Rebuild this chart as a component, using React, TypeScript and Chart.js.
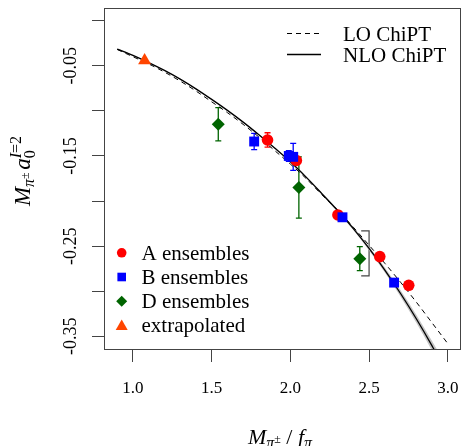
import React, { useEffect, useRef } from 'react';
import { Chart, registerables } from 'chart.js';
Chart.register(...registerables);

// ---- data ----
const curveX = [0.9, 1.0, 1.1, 1.2, 1.3, 1.4, 1.5, 1.6, 1.7, 1.8, 1.9, 2.0, 2.1, 2.2, 2.3, 2.4, 2.5, 2.6, 2.7, 2.8, 2.9, 3.0];
const loY = [-0.032, -0.040, -0.048, -0.057, -0.067, -0.078, -0.090, -0.102, -0.115, -0.129, -0.144, -0.159, -0.175, -0.193, -0.210, -0.229, -0.249, -0.269, -0.290, -0.312, -0.335, -0.358];
const nloY = [-0.0315, -0.0385, -0.0465, -0.0552, -0.0648, -0.0756, -0.0873, -0.0995, -0.1125, -0.1265, -0.1412, -0.1565, -0.1735, -0.1918, -0.2105, -0.2305, -0.2525, -0.2765, -0.3025, -0.3305, -0.3605, -0.3925];
const nloUpper = [-0.0310, -0.0380, -0.0460, -0.0547, -0.0643, -0.0751, -0.0868, -0.0990, -0.1120, -0.1259, -0.1405, -0.1557, -0.1726, -0.1907, -0.2092, -0.2288, -0.2503, -0.2737, -0.2990, -0.3260, -0.3550, -0.3855];
const nloLower = [-0.0320, -0.0390, -0.0470, -0.0557, -0.0653, -0.0761, -0.0878, -0.1000, -0.1130, -0.1271, -0.1419, -0.1573, -0.1744, -0.1929, -0.2118, -0.2322, -0.2547, -0.2793, -0.3060, -0.3350, -0.3660, -0.3995];

const aX = [1.855, 2.038, 2.302, 2.568, 2.752];
const aY = [-0.1323, -0.1550, -0.2154, -0.2616, -0.2934];
const aErr = [0.008, 0.004, 0.002, 0.002, 0.002];

const bX = [1.770, 1.990, 2.018, 2.331, 2.659];
const bY = [-0.1340, -0.1500, -0.1510, -0.2180, -0.2904];
const bErr = [0.009, 0.006, 0.015, 0.002, 0.002];

const dX = [1.542, 2.054, 2.441];
const dY = [-0.1149, -0.1850, -0.2639];
const dErr = [0.0185, 0.034, 0.0133];

const exX = [1.074];
const exY = [-0.0442];

const bracketX = [2.45, 2.50];
const bracketY = [-0.233, -0.283];

const xTicks = [1.0, 1.5, 2.0, 2.5, 3.0];
const xTickLabels = ['1.0', '1.5', '2.0', '2.5', '3.0'];
const yTicks = [0, -0.05, -0.1, -0.15, -0.2, -0.25, -0.3, -0.35];
const yTickLabels = ['', '-0.05', '', '-0.15', '', '-0.25', '', '-0.35'];

const lineLegend = ['LO ChiPT', 'NLO ChiPT'];
const pointLegend = ['A ensembles', 'B ensembles', 'D ensembles', 'extrapolated'];

const RED = '#ff0000';
const BLUE = '#0000ff';
const GREEN = '#006400';
const ORANGE = '#ff4500';
const SERIF = '"Liberation Serif", "Times New Roman", serif';

type Run = { t: string; size: number; italic?: boolean; dy?: number; overlay?: boolean; follow?: boolean };

function drawRuns(ctx: CanvasRenderingContext2D, runs: Run[], cx: number, cy: number, rot: number) {
  let pos = 0;
  let prevStart = 0;
  let prevEnd = 0;
  const placed: { r: Run; x: number }[] = [];
  for (const r of runs) {
    ctx.font = `${r.italic ? 'italic ' : ''}${r.size}px ${SERIF}`;
    const w = ctx.measureText(r.t).width;
    const start = r.overlay ? prevStart : r.follow ? prevEnd : pos;
    placed.push({ r, x: start });
    pos = Math.max(pos, start + w);
    prevStart = start;
    prevEnd = start + w;
  }
  ctx.save();
  ctx.translate(cx, cy);
  ctx.rotate(rot);
  ctx.fillStyle = '#000';
  ctx.textAlign = 'left';
  ctx.textBaseline = 'alphabetic';
  for (const p of placed) {
    ctx.font = `${p.r.italic ? 'italic ' : ''}${p.r.size}px ${SERIF}`;
    ctx.fillText(p.r.t, p.x - pos / 2, p.r.dy || 0);
  }
  ctx.restore();
}

const decorPlugin = {
  id: 'decor',
  beforeDatasetsDraw(chart: any) {
    const ctx = chart.ctx as CanvasRenderingContext2D;
    const xs = chart.scales.x;
    const ys = chart.scales.y;
    const groups = [
      { x: aX, y: aY, e: aErr, c: RED },
      { x: bX, y: bY, e: bErr, c: BLUE },
      { x: dX, y: dY, e: dErr, c: GREEN },
    ];
    ctx.save();
    ctx.lineWidth = 1.3;
    for (const g of groups) {
      ctx.strokeStyle = g.c;
      for (let i = 0; i < g.x.length; i++) {
        const px = xs.getPixelForValue(g.x[i]);
        const p1 = ys.getPixelForValue(g.y[i] + g.e[i]);
        const p2 = ys.getPixelForValue(g.y[i] - g.e[i]);
        ctx.beginPath();
        ctx.moveTo(px, p1); ctx.lineTo(px, p2);
        ctx.moveTo(px - 3, p1); ctx.lineTo(px + 3, p1);
        ctx.moveTo(px - 3, p2); ctx.lineTo(px + 3, p2);
        ctx.stroke();
      }
    }
    // bracket
    const bx1 = xs.getPixelForValue(bracketX[0]);
    const bx2 = xs.getPixelForValue(bracketX[1]);
    const by1 = ys.getPixelForValue(bracketY[0]);
    const by2 = ys.getPixelForValue(bracketY[1]);
    ctx.strokeStyle = '#444';
    ctx.lineWidth = 1.2;
    ctx.beginPath();
    ctx.moveTo(bx1, by1); ctx.lineTo(bx2, by1); ctx.lineTo(bx2, by2); ctx.lineTo(bx1, by2);
    ctx.stroke();
    ctx.restore();
  },
  afterDraw(chart: any) {
    const ctx = chart.ctx as CanvasRenderingContext2D;
    const ca = chart.chartArea;
    const xs = chart.scales.x;
    const ys = chart.scales.y;
    ctx.save();
    // box
    ctx.strokeStyle = '#444';
    ctx.lineWidth = 1;
    ctx.strokeRect(Math.round(ca.left) + 0.5, Math.round(ca.top) + 0.5, Math.round(ca.right - ca.left) - 1, Math.round(ca.bottom - ca.top));
    // x tick labels
    ctx.fillStyle = '#000';
    ctx.font = `17px ${SERIF}`;
    ctx.textAlign = 'center';
    ctx.textBaseline = 'alphabetic';
    xTicks.forEach((v, i) => {
      ctx.fillText(xTickLabels[i], xs.getPixelForValue(v), 393);
    });
    // y tick labels (rotated)
    ctx.font = `18px ${SERIF}`;
    ctx.textAlign = 'center';
    ctx.textBaseline = 'middle';
    yTicks.forEach((v, i) => {
      if (!yTickLabels[i]) return;
      const py = ys.getPixelForValue(v);
      ctx.save();
      ctx.translate(71, py);
      ctx.rotate(-Math.PI / 2);
      ctx.fillText(yTickLabels[i], 0, 0);
      ctx.restore();
    });
    // line legend (top right)
    ctx.strokeStyle = '#000';
    ctx.lineWidth = 1;
    ctx.setLineDash([5, 4]);
    ctx.beginPath(); ctx.moveTo(287, 33.5); ctx.lineTo(321, 33.5); ctx.stroke();
    ctx.setLineDash([]);
    ctx.lineWidth = 1.3;
    ctx.beginPath(); ctx.moveTo(287, 54.5); ctx.lineTo(321, 54.5); ctx.stroke();
    ctx.font = `21px ${SERIF}`;
    ctx.textAlign = 'left';
    ctx.textBaseline = 'alphabetic';
    ctx.fillText(lineLegend[0], 343, 40.5);
    ctx.fillText(lineLegend[1], 343, 61.5);
    // point legend (bottom left)
    const mx = 121.7;
    const rows = [252.8, 277, 301.2, 325.4];
    ctx.fillStyle = RED;
    ctx.beginPath(); ctx.arc(mx, rows[0], 4.8, 0, Math.PI * 2); ctx.fill();
    ctx.fillStyle = BLUE;
    ctx.fillRect(mx - 4.3, rows[1] - 4.3, 8.6, 8.6);
    ctx.fillStyle = GREEN;
    ctx.beginPath(); ctx.moveTo(mx, rows[2] - 5.5); ctx.lineTo(mx + 5.5, rows[2]); ctx.lineTo(mx, rows[2] + 5.5); ctx.lineTo(mx - 5.5, rows[2]); ctx.closePath(); ctx.fill();
    ctx.fillStyle = ORANGE;
    ctx.beginPath(); ctx.moveTo(mx, rows[3] - 6); ctx.lineTo(mx + 6, rows[3] + 4.5); ctx.lineTo(mx - 6, rows[3] + 4.5); ctx.closePath(); ctx.fill();
    ctx.fillStyle = '#000';
    ctx.font = `21px ${SERIF}`;
    pointLegend.forEach((t, i) => ctx.fillText(t, 141.5, rows[i] + 6.8));
    ctx.restore();
    // axis titles
    drawRuns(ctx, [
      { t: 'M', size: 22, italic: true },
      { t: 'π', size: 16, italic: true, dy: 4 },
      { t: '±', size: 12, dy: -1 },
      { t: ' / ', size: 22 },
      { t: 'f', size: 22, italic: true },
      { t: 'π', size: 16, italic: true, dy: 4 },
    ], 280, 444, 0);
    drawRuns(ctx, [
      { t: 'M', size: 23, italic: true },
      { t: 'π', size: 16, italic: true, dy: 4 },
      { t: '±', size: 12, dy: -1 },
      { t: ' ', size: 10 },
      { t: 'a', size: 23, italic: true },
      { t: '0', size: 16, dy: 5 },
      { t: 'I', size: 16, italic: true, dy: -9, overlay: true },
      { t: '=2', size: 16, dy: -9, follow: true },
    ], 30, 171, -Math.PI / 2);
  },
};

function pts(xs: number[], ys: number[]) {
  return xs.map((x, i) => ({ x, y: ys[i] }));
}

export default function App() {
  const ref = useRef<HTMLCanvasElement | null>(null);
  useEffect(() => {
    if (!ref.current) return;
    const chart = new Chart(ref.current, {
      type: 'line',
      data: {
        datasets: [
          { data: pts(curveX, nloUpper), borderWidth: 0, pointRadius: 0, fill: false, cubicInterpolationMode: 'monotone', order: 10 } as any,
          { data: pts(curveX, nloLower), borderWidth: 0, pointRadius: 0, fill: '-1', backgroundColor: '#c4c4c4', cubicInterpolationMode: 'monotone', order: 9 } as any,
          { data: pts(curveX, loY), borderColor: '#000', borderWidth: 1, borderDash: [5, 4], pointRadius: 0, fill: false, cubicInterpolationMode: 'monotone', order: 8 } as any,
          { data: pts(curveX, nloY), borderColor: '#000', borderWidth: 1.3, pointRadius: 0, fill: false, cubicInterpolationMode: 'monotone', order: 7 } as any,
          { data: pts(aX, aY), showLine: false, pointStyle: 'circle', pointRadius: 5.8, backgroundColor: RED, borderColor: RED, borderWidth: 0, order: 4 } as any,
          { data: pts(bX, bY), showLine: false, pointStyle: 'rect', pointRadius: 7, backgroundColor: BLUE, borderColor: BLUE, borderWidth: 0, order: 3 } as any,
          { data: pts(dX, dY), showLine: false, pointStyle: 'rectRot', pointRadius: 6.5, backgroundColor: GREEN, borderColor: GREEN, borderWidth: 0, order: 2 } as any,
          { data: pts(exX, exY), showLine: false, pointStyle: 'triangle', pointRadius: 7.5, backgroundColor: ORANGE, borderColor: ORANGE, borderWidth: 0, order: 1 } as any,
        ],
      },
      options: {
        responsive: false,
        animation: false,
        events: [],
        layout: { autoPadding: false, padding: { top: 8, right: 1, left: 0, bottom: 0 } },
        plugins: { legend: { display: false }, tooltip: { enabled: false } },
        scales: {
          x: {
            type: 'linear',
            min: 0.816,
            max: 3.084,
            afterBuildTicks: (s: any) => { s.ticks = xTicks.map((v) => ({ value: v })); },
            afterFit: (s: any) => { s.height = 97; },
            ticks: { display: false },
            grid: { drawOnChartArea: false, drawTicks: true, tickLength: 13, color: '#444' },
            border: { display: false },
          },
          y: {
            type: 'linear',
            min: -0.364,
            max: 0.014,
            afterBuildTicks: (s: any) => { s.ticks = yTicks.map((v) => ({ value: v })); },
            afterFit: (s: any) => { s.width = 104; },
            ticks: { display: false },
            grid: { drawOnChartArea: false, drawTicks: true, tickLength: 12, color: '#444' },
            border: { display: false },
          },
        },
      } as any,
      plugins: [decorPlugin],
    });
    return () => chart.destroy();
  }, []);
  return (
    <div style={{ position: 'absolute', left: 0, top: 0, width: 462, height: 446, background: '#fff' }}>
      <canvas ref={ref} width={462} height={446} style={{ width: 462, height: 446, display: 'block' }} />
    </div>
  );
}
